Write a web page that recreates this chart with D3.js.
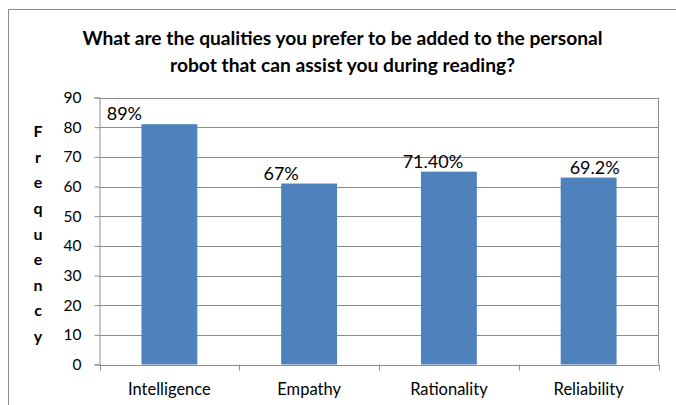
<!DOCTYPE html>
<html>
<head>
<meta charset="utf-8">
<script src="https://cdn.jsdelivr.net/npm/d3@7/dist/d3.min.js"></script>
<style>
  html, body { margin: 0; padding: 0; background: #fff; }
  svg { display: block; font-family: Lato, "DejaVu Sans", sans-serif; }
</style>
</head>
<body>
<svg id="chart" width="676" height="405"></svg>
<script>
// Survey answers: frequency of each preferred quality (out of 91 respondents)
const categories = ["Intelligence", "Empathy", "Rationality", "Reliability"];
const frequency = [81, 61, 65, 63];
const percentLabels = ["89%", "67%", "71.40%", "69.2%"];
const yTicks = [0, 10, 20, 30, 40, 50, 60, 70, 80, 90];
const titleLines = [
  "What are the qualities you prefer to be added to the personal",
  "robot that can assist you during reading?"
];
const axisTitle = "Frequency";

// Layout
const plot = { left: 99.5, right: 658.5, top: 97.5, bottom: 364.5 };
const labelShift = [-45, -28, -16, 6];   // hand-placed data label nudges
const gridColor = "#8c8c8c";
const barColor = "#4f81bd";

const svg = d3.select("#chart");

// Outer chart frame (left and top edges fall inside the page)
svg.append("path")
  .attr("d", "M8.5,405 V9.5 H676")
  .attr("fill", "none")
  .attr("stroke", "#8c8c8c")
  .attr("stroke-width", 1);

// Title
const title = svg.append("g").attr("font-weight", "bold").attr("font-size", 18)
  .attr("fill", "#000").attr("text-anchor", "middle");
const titleWidths = [520, 345];
titleLines.forEach((t, i) => {
  title.append("text")
    .attr("x", 342.5)
    .attr("y", 45 + i * 27)
    .attr("textLength", titleWidths[i])
    .attr("lengthAdjust", "spacingAndGlyphs")
    .text(t);
});

const x = d3.scaleBand()
  .domain(categories)
  .range([plot.left, plot.right])
  .paddingInner(0.6)
  .paddingOuter(0.3);

const y = d3.scaleLinear()
  .domain([0, 90])
  .range([plot.bottom, plot.top]);

// Horizontal gridlines
svg.append("g")
  .selectAll("line")
  .data(yTicks)
  .join("line")
  .attr("x1", plot.left)
  .attr("x2", plot.right)
  .attr("y1", d => Math.round(y(d)) + 0.5)
  .attr("y2", d => Math.round(y(d)) + 0.5)
  .attr("stroke", gridColor)
  .attr("stroke-width", 1);

// Right edge of the plot area
svg.append("line")
  .attr("x1", plot.right).attr("x2", plot.right)
  .attr("y1", y(90)).attr("y2", y(0))
  .attr("stroke", gridColor);

// Bars
svg.append("g")
  .selectAll("rect")
  .data(categories.map((c, i) => ({ c, v: frequency[i] })))
  .join("rect")
  .attr("x", d => x(d.c))
  .attr("width", x.bandwidth())
  .attr("y", d => y(d.v))
  .attr("height", d => y(0) - y(d.v))
  .attr("fill", barColor);

// Y axis
const yAxis = svg.append("g")
  .attr("transform", `translate(${plot.left},0)`)
  .call(d3.axisLeft(y).tickValues(yTicks).tickSize(5).tickPadding(13).tickFormat(d3.format("d")));
yAxis.select(".domain").attr("stroke", gridColor);
yAxis.selectAll(".tick line").attr("stroke", gridColor);
yAxis.selectAll(".tick text")
  .attr("font-family", "Lato, sans-serif")
  .attr("font-size", 15.5)
  .attr("fill", "#000");

// X axis line with tick marks at category boundaries
svg.append("line")
  .attr("x1", plot.left).attr("x2", plot.right)
  .attr("y1", Math.round(y(0)) + 0.5).attr("y2", Math.round(y(0)) + 0.5)
  .attr("stroke", gridColor);
const edges = d3.range(categories.length + 1)
  .map(i => plot.left + i * (plot.right - plot.left) / categories.length);
svg.append("g")
  .selectAll("line")
  .data(edges)
  .join("line")
  .attr("x1", d => Math.round(d) + 0.5)
  .attr("x2", d => Math.round(d) + 0.5)
  .attr("y1", y(0))
  .attr("y2", y(0) + 6)
  .attr("stroke", gridColor);

// Category labels
const xAxis = svg.append("g")
  .attr("transform", `translate(0,${plot.bottom})`)
  .call(d3.axisBottom(x).tickSize(0).tickPadding(19));
xAxis.select(".domain").remove();
xAxis.selectAll(".tick text")
  .attr("font-family", "Lato, sans-serif")
  .attr("font-size", 16.5)
  .attr("fill", "#000");

// Data labels
svg.append("g")
  .attr("font-size", 18)
  .attr("text-anchor", "middle")
  .attr("fill", "#000")
  .selectAll("text")
  .data(categories.map((c, i) => ({ c, v: frequency[i], t: percentLabels[i], dx: labelShift[i] })))
  .join("text")
  .attr("x", d => x(d.c) + x.bandwidth() / 2 + d.dx)
  .attr("y", d => y(d.v) - 4)
  .text(d => d.t);

// Vertical axis title, one letter per line
svg.append("g")
  .attr("font-weight", "bold")
  .attr("font-size", 16)
  .attr("text-anchor", "middle")
  .attr("fill", "#000")
  .selectAll("text")
  .data(axisTitle.split(""))
  .join("text")
  .attr("x", 38)
  .attr("y", (d, i) => 234 + (i - 4) * 25.6)
  .attr("dy", "0.35em")
  .text(d => d);
</script>
</body>
</html>
